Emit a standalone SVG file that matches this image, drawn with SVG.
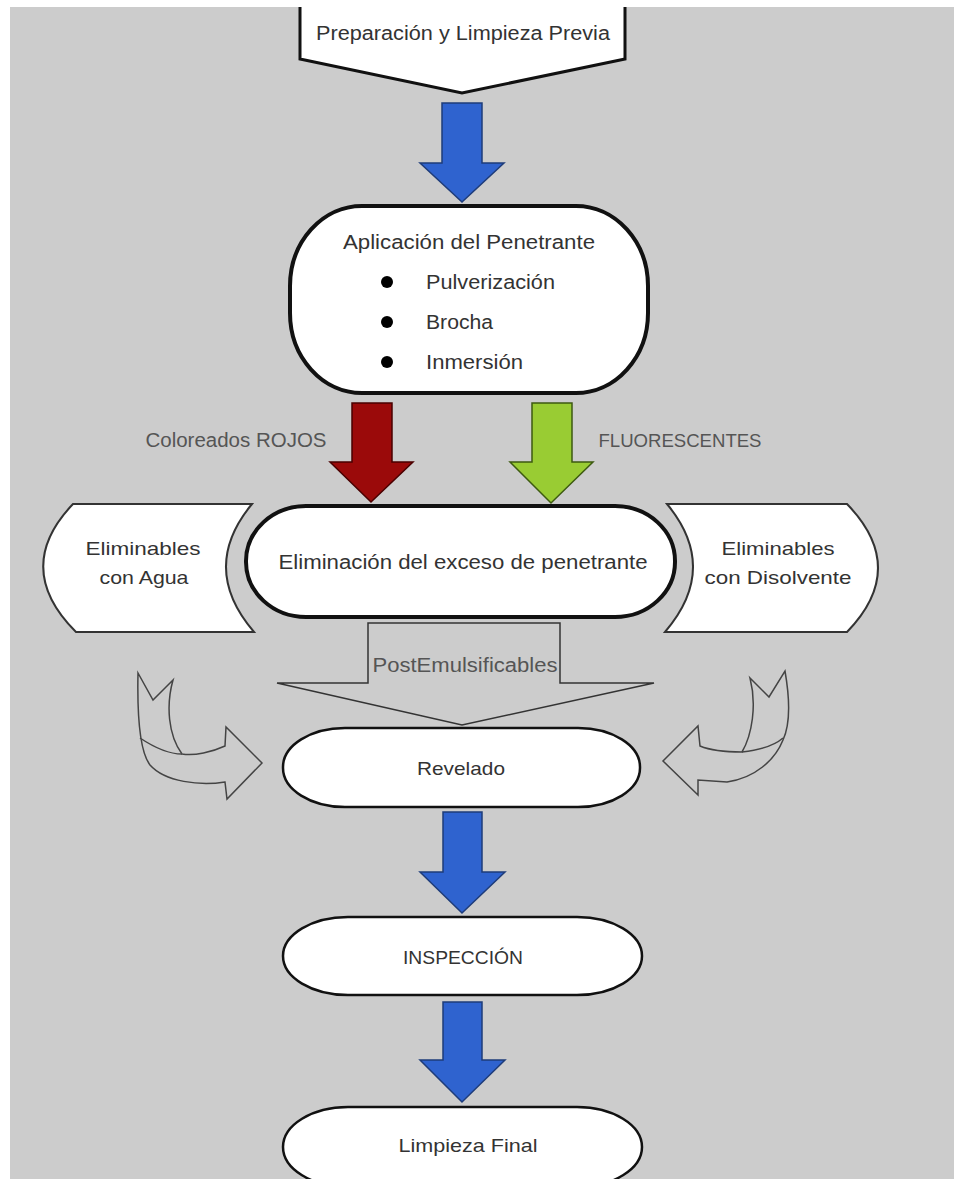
<svg xmlns="http://www.w3.org/2000/svg" width="954" height="1179" viewBox="0 0 954 1179">
<style>
text{font-family:"Liberation Sans",Arial,sans-serif;fill:#333;text-anchor:middle;lengthAdjust:spacingAndGlyphs}
.lbl{fill:#555}
.node{fill:#fff;stroke:#111}
.thick{stroke-width:4}
.mid{stroke-width:2.5}
.side{fill:#fff;stroke:#333;stroke-width:2}
.blue{fill:#2f63cf;stroke:#1e3c7a;stroke-width:1.5}
.red{fill:#9b0a0a;stroke:#4a0000;stroke-width:1.5}
.green{fill:#99cc33;stroke:#3d5a10;stroke-width:1.5}
.outline{fill:#cccccc;stroke:#333;stroke-width:1.5}
.curve{fill:#cccccc;stroke:#444;stroke-width:1.5}
</style>
<rect x="0" y="0" width="954" height="1179" fill="#ffffff"/>
<rect x="10" y="7" width="944" height="1172" fill="#cccccc"/>

<g id="connectors">
  <path class="blue" d="M442,103 L482,103 L482,163 L504,163 L462,202 L420,163 L442,163 Z"/>
  <path class="red" d="M352,403 L392,403 L392,462 L413,462 L371,502 L330,462 L352,462 Z"/>
  <path class="green" d="M532,403 L572,403 L572,462 L593,462 L551,503 L510,462 L532,462 Z"/>
  <text class="lbl" x="236" y="447" font-size="20" textLength="181" lengthAdjust="spacingAndGlyphs">Coloreados ROJOS</text>
  <text class="lbl" x="680" y="447" font-size="19" textLength="163" lengthAdjust="spacingAndGlyphs">FLUORESCENTES</text>
  <path class="outline" d="M368,623 L560,623 L560,683 L654,683 L462,725 L277,683 L368,683 Z"/>
  <text class="lbl" x="465" y="672" font-size="20" textLength="185" lengthAdjust="spacingAndGlyphs">PostEmulsificables</text>
  <path class="curve" d="M138,673 L153,700 L173,680 C166,705 168,735 182,754 C195,756 212,752 225,746 L226,727 L262,763 L227,799 L225,782 C200,786 165,782 150,765 C140,752 137,720 138,673 Z"/>
  <path class="curve" fill="none" d="M140,738 C155,748 170,754 182,754"/>
  <path class="curve" d="M750,678 L769,697 L785,671 C790,700 790,725 783,740 C775,760 755,778 727,782 L698,780 L698,795 L663,761 L698,726 L700,746 C712,751 728,752 742,752 C752,735 757,705 750,678 Z"/>
  <path class="curve" fill="none" d="M742,752 C760,750 775,745 783,738"/>
  <path class="blue" d="M443,812 L482,812 L482,872 L505,872 L462,913 L420,872 L443,872 Z"/>
  <path class="blue" d="M443,1002 L482,1002 L482,1060 L505,1060 L462,1102 L420,1060 L443,1060 Z"/>
</g>

<g id="preparacion">
  <path d="M300,7 L300,59 L462,93 L625,59 L625,7" fill="#fff" stroke="#111" stroke-width="3"/>
  <text x="463" y="40" font-size="20" textLength="294" lengthAdjust="spacingAndGlyphs">Preparación y Limpieza Previa</text>
</g>

<g id="aplicacion">
  <rect class="node thick" x="290" y="206" width="358" height="187" rx="72" ry="80"/>
  <text x="469" y="249" font-size="20" textLength="252" lengthAdjust="spacingAndGlyphs">Aplicación del Penetrante</text>
  <circle cx="387" cy="282" r="6" fill="#000"/>
  <circle cx="387" cy="322" r="6" fill="#000"/>
  <circle cx="387" cy="362" r="6" fill="#000"/>
  <text x="426" y="289" font-size="20" style="text-anchor:start" textLength="129" lengthAdjust="spacingAndGlyphs">Pulverización</text>
  <text x="426" y="329" font-size="20" style="text-anchor:start" textLength="67" lengthAdjust="spacingAndGlyphs">Brocha</text>
  <text x="426" y="369" font-size="20" style="text-anchor:start" textLength="97" lengthAdjust="spacingAndGlyphs">Inmersión</text>
</g>

<g id="agua">
  <path class="side" d="M73,504 L252,504 Q199,568 254,632 L76,632 Q12,568 73,504 Z"/>
  <text x="143" y="555" font-size="19" textLength="115" lengthAdjust="spacingAndGlyphs">Eliminables</text>
  <text x="144" y="584" font-size="19" textLength="89" lengthAdjust="spacingAndGlyphs">con Agua</text>
</g>

<g id="eliminacion">
  <rect class="node thick" x="246" y="506" width="429" height="111" rx="60" ry="55"/>
  <text x="463" y="569" font-size="20" textLength="369" lengthAdjust="spacingAndGlyphs">Eliminación del exceso de penetrante</text>
</g>

<g id="disolvente">
  <path class="side" d="M667,504 L847,504 Q909,568 847,632 L665,632 Q720,568 667,504 Z"/>
  <text x="778" y="555" font-size="19" textLength="113" lengthAdjust="spacingAndGlyphs">Eliminables</text>
  <text x="778" y="584" font-size="19" textLength="147" lengthAdjust="spacingAndGlyphs">con Disolvente</text>
</g>

<g id="revelado">
  <rect class="node mid" x="283" y="728" width="357" height="79" rx="62" ry="39"/>
  <text x="461" y="775" font-size="19" textLength="88" lengthAdjust="spacingAndGlyphs">Revelado</text>
</g>

<g id="inspeccion">
  <rect class="node mid" x="283" y="917" width="359" height="78" rx="65" ry="39"/>
  <text x="463" y="964" font-size="19" textLength="120" lengthAdjust="spacingAndGlyphs">INSPECCIÓN</text>
</g>

<g id="limpieza-final">
  <rect class="node mid" x="283" y="1107" width="359" height="80" rx="65" ry="40"/>
  <text x="468" y="1152" font-size="19" textLength="139" lengthAdjust="spacingAndGlyphs">Limpieza Final</text>
</g>
</svg>
